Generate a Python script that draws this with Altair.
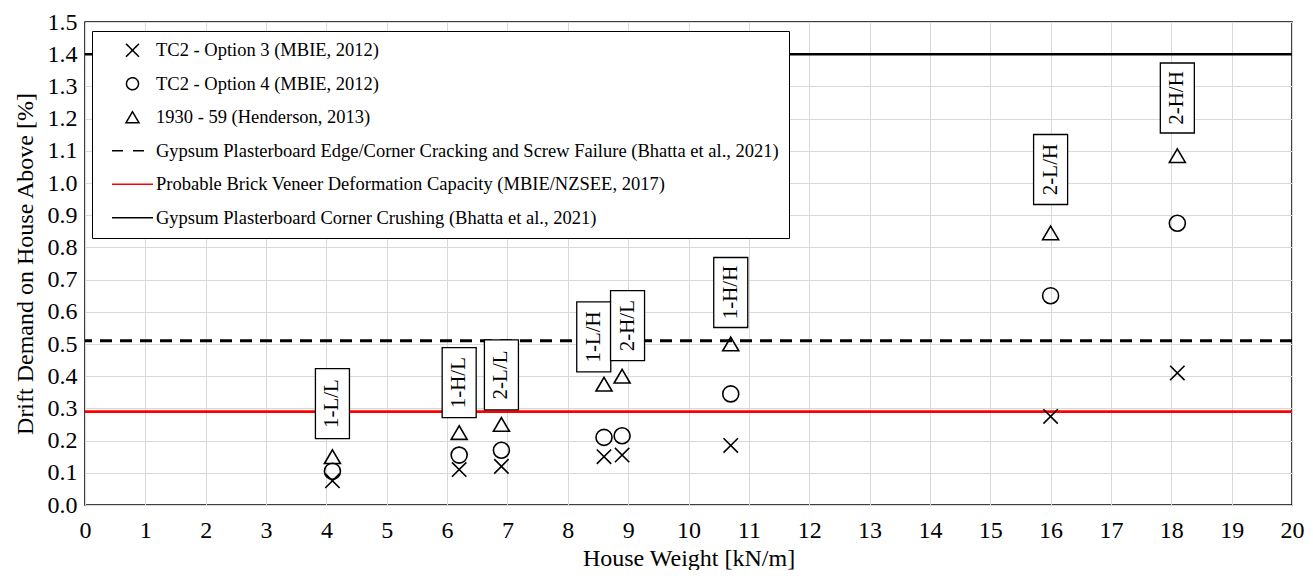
import altair as alt
import pandas as pd

# ---------------- data ----------------
house_weight = [4.1, 6.2, 6.9, 8.6, 8.9, 10.7, 16.0, 18.1]
tc2_option3 = [0.075, 0.11, 0.12, 0.15, 0.155, 0.185, 0.275, 0.41]
tc2_option4 = [0.105, 0.155, 0.17, 0.21, 0.215, 0.345, 0.65, 0.875]
henderson_1930_59 = [0.15, 0.225, 0.25, 0.375, 0.40, 0.50, 0.845, 1.085]

case_labels = ["1-L/L", "1-H/L", "2-L/L", "1-L/H", "2-H/L", "1-H/H", "2-L/H", "2-H/H"]
label_x = [4.1, 6.2, 6.9, 8.43, 8.99, 10.7, 16.0, 18.1]
label_y = [0.315, 0.38, 0.404, 0.522, 0.557, 0.66, 1.042, 1.264]

point_series = [
    "TC2 - Option 3 (MBIE, 2012)",
    "TC2 - Option 4 (MBIE, 2012)",
    "1930 - 59 (Henderson, 2013)",
]
limit_series = [
    "Gypsum Plasterboard Edge/Corner Cracking and Screw Failure (Bhatta et al., 2021)",
    "Probable Brick Veneer Deformation Capacity (MBIE/NZSEE, 2017)",
    "Gypsum Plasterboard Corner Crushing (Bhatta et al., 2021)",
]
limit_values = [0.51, 0.29, 1.4]

x_ticks = list(range(0, 21))
y_ticks = [0.0, 0.1, 0.2, 0.3, 0.4, 0.5, 0.6, 0.7, 0.8, 0.9, 1.0, 1.1, 1.2, 1.3, 1.4, 1.5]

# ---------------- tables ----------------
rows = []
for s, vals in zip(point_series, [tc2_option3, tc2_option4, henderson_1930_59]):
    for xv, yv in zip(house_weight, vals):
        rows.append({"x": xv, "value": yv, "series": s})
points_df = pd.DataFrame(rows)
limits_df = pd.DataFrame({"series": limit_series, "value": limit_values})
labels_df = pd.DataFrame({"x": label_x, "value": label_y, "label": case_labels})
all_series = point_series + limit_series
legend_df = pd.DataFrame({"series": all_series})

# ---------------- styles ----------------
FONT = "Liberation Serif"
x_path = "M-0.9,-0.9L0.9,0.9M-0.9,0.9L0.9,-0.9"
tri_path = "M0,-0.85L1,0.85L-1,0.85Z"
box_path = "M-0.486,-1H0.486V1H-0.486Z"

# legend symbol paths (size 196 -> 7 px per unit), line spans 41 px
leg_x = "M2.106,-0.93L3.966,0.93M2.106,0.93L3.966,-0.93"
leg_circle = "M3.893,0A0.857,0.857 0 1,1 2.179,0A0.857,0.857 0 1,1 3.893,0Z"
leg_tri = "M3.036,-0.786L3.966,0.786L2.106,0.786Z"
leg_line = "M0.107,0L5.964,0"

xscale = alt.Scale(domain=[0, 20], nice=False, zero=False)
yscale = alt.Scale(domain=[0, 1.5], nice=False)
xaxis = alt.Axis(values=x_ticks, title="House Weight [kN/m]", labelFlush=False,
                 labelOverlap=False, labelPadding=13, titleBaseline="alphabetic", titleY=60)
yaxis = alt.Axis(values=y_ticks, format=".1f", title="Drift Demand on House Above [%]",
                 labelFlush=False, labelOverlap=False, labelPadding=8, titlePadding=10)

rules = alt.Chart(limits_df).mark_rule().encode(
    y=alt.Y("value:Q", scale=yscale, axis=yaxis),
    color=alt.Color("series:N", scale=alt.Scale(domain=limit_series, range=["black", "red", "black"]), legend=None),
    strokeDash=alt.StrokeDash("series:N", scale=alt.Scale(domain=limit_series, range=[[12, 8], [1, 0], [1, 0]]), legend=None),
    strokeWidth=alt.StrokeWidth("series:N", scale=alt.Scale(domain=limit_series, range=[3, 2.5, 2.5]), legend=None),
)

points = alt.Chart(points_df).mark_point(filled=False, size=256, strokeWidth=1.6, color="black", opacity=1).encode(
    x=alt.X("x:Q", scale=xscale, axis=xaxis),
    y=alt.Y("value:Q", scale=yscale, axis=yaxis),
    shape=alt.Shape("series:N", scale=alt.Scale(domain=point_series, range=[x_path, "circle", tri_path]), legend=None),
)

boxes = alt.Chart(labels_df).mark_point(shape=box_path, size=4900, filled=True, fill="white",
                                        stroke="black", strokeWidth=1.3, opacity=1).encode(
    x=alt.X("x:Q", scale=xscale, axis=xaxis),
    y=alt.Y("value:Q", scale=yscale, axis=yaxis),
)

texts = alt.Chart(labels_df).mark_text(angle=270, font=FONT, fontSize=21, color="black",
                                       align="center", baseline="middle").encode(
    x=alt.X("x:Q", scale=xscale, axis=xaxis),
    y=alt.Y("value:Q", scale=yscale, axis=yaxis),
    text="label:N",
)

legend_layer = alt.Chart(legend_df).transform_filter("false").mark_point(filled=False, size=196, opacity=1).encode(
    color=alt.Color("series:N", title=None,
                    scale=alt.Scale(domain=all_series, range=["black", "black", "black", "black", "red", "black"])),
    shape=alt.Shape("series:N", title=None,
                    scale=alt.Scale(domain=all_series, range=[leg_x, leg_circle, leg_tri, leg_line, leg_line, leg_line])),
    strokeDash=alt.StrokeDash("series:N", title=None,
                              scale=alt.Scale(domain=all_series, range=[[1, 0], [1, 0], [1, 0], [11, 10], [1, 0], [1, 0]])),
    strokeWidth=alt.StrokeWidth("series:N", title=None,
                                scale=alt.Scale(domain=all_series, range=[1.5, 1.5, 1.5, 3, 2.5, 2.5])),
)

chart = alt.layer(rules, points, boxes, texts, legend_layer).resolve_scale(
    color="independent", shape="independent", strokeDash="independent", strokeWidth="independent"
).properties(
    width=1207, height=483,
    autosize=alt.AutoSizeParams(type="none"),
    padding={"left": 77, "top": 14, "right": 13, "bottom": 65},
).configure_view(
    stroke="black", strokeWidth=1.5
).configure_axis(
    grid=True, gridColor="#d9d9d9", gridWidth=1, ticks=False, domain=False,
    labelFont=FONT, labelFontSize=24, labelColor="black",
    titleFont=FONT, titleFontSize=24, titleColor="black", titleFontWeight="normal",
).configure_legend(
    orient="none", legendX=7, legendY=9, padding=10,
    strokeColor="black", fillColor="white",
    labelFont=FONT, labelFontSize=18.5, labelColor="black", labelLimit=0,
    labelOffset=35.5, rowPadding=14.5, symbolSize=196,
)

chart.save("out.html", embed_options={"renderer": "svg", "actions": False})
